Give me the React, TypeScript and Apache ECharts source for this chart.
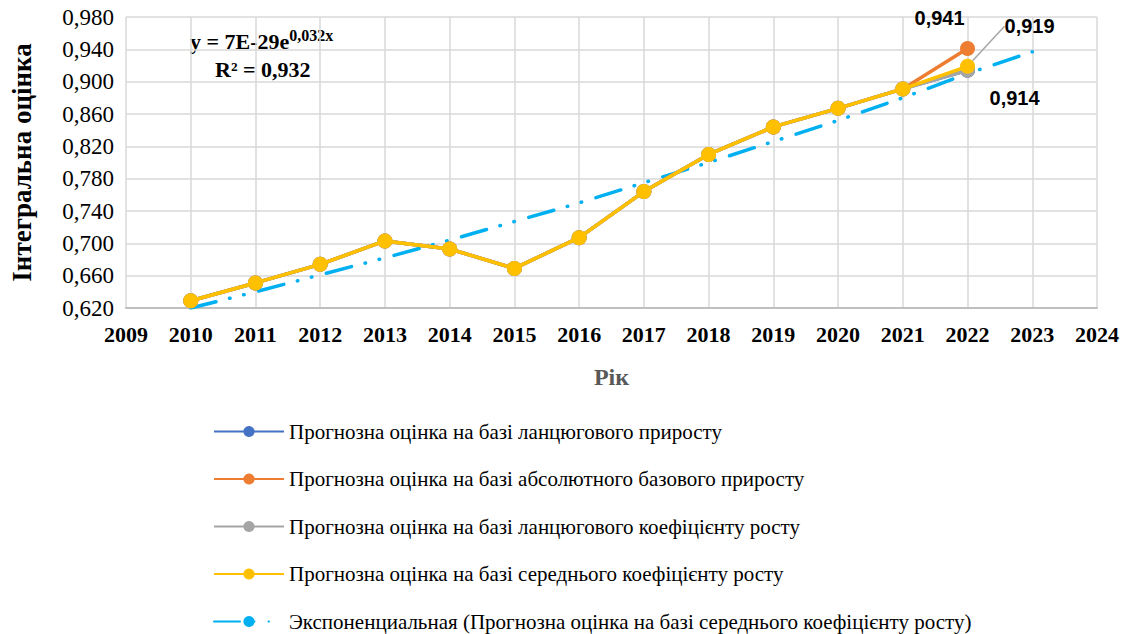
import React, { useEffect, useRef } from "react";
import * as echarts from "echarts";

const years = [2010, 2011, 2012, 2013, 2014, 2015, 2016, 2017, 2018, 2019, 2020, 2021, 2022];
const chainIncrement = [0.629, 0.651, 0.674, 0.703, 0.693, 0.669, 0.707, 0.764, 0.810, 0.844, 0.867, 0.891, 0.914];
const absoluteIncrement = [0.629, 0.651, 0.674, 0.703, 0.693, 0.669, 0.707, 0.764, 0.810, 0.844, 0.867, 0.891, 0.941];
const chainCoefficient = [0.629, 0.651, 0.674, 0.703, 0.693, 0.669, 0.707, 0.764, 0.810, 0.844, 0.867, 0.891, 0.914];
const averageCoefficient = [0.629, 0.651, 0.674, 0.703, 0.693, 0.669, 0.707, 0.764, 0.810, 0.844, 0.867, 0.891, 0.919];
const trendYears = [2010, 2011, 2012, 2013, 2014, 2015, 2016, 2017, 2018, 2019, 2020, 2021, 2022, 2023];
const trendValues = [0.620, 0.640, 0.661, 0.682, 0.704, 0.727, 0.750, 0.775, 0.800, 0.826, 0.852, 0.880, 0.910, 0.937];
const yTicks = [0.62, 0.66, 0.70, 0.74, 0.78, 0.82, 0.86, 0.90, 0.94, 0.98];

const seriesNames = [
  "Прогнозна оцінка на базі ланцюгового приросту",
  "Прогнозна оцінка на базі абсолютного базового приросту",
  "Прогнозна оцінка на базі ланцюгового коефіцієнту росту",
  "Прогнозна оцінка на базі середнього коефіцієнту росту",
  "Экспоненциальная (Прогнозна оцінка на базі середнього коефіцієнту росту)",
];
const colors = ["#4472C4", "#ED7D31", "#A5A5A5", "#FFC000", "#00B0F0"];

const SERIF = "'Liberation Serif', 'Times New Roman', serif";
const SANS = "'Liberation Sans', Arial, sans-serif";

function buildData(values: number[], label?: any) {
  return values.map((v, i) => {
    const item: any = { value: [years[i], v] };
    if (label && i === values.length - 1) item.label = label;
    return item;
  });
}

const labelBase = {
  show: true,
  position: "inside",
  fontFamily: SANS,
  fontWeight: "bold",
  fontSize: 20,
  color: "#000",
  formatter: (p: any) => p.value[1].toFixed(3).replace(".", ","),
};

export default function App() {
  const ref = useRef<HTMLDivElement>(null);
  useEffect(() => {
    if (!ref.current) return;
    const chart = echarts.init(ref.current, undefined, { renderer: "svg" });
    const lineSeries = (idx: number, values: number[], label?: any, extra: any = {}) => ({
      name: seriesNames[idx],
      type: "line",
      data: buildData(values, label),
      symbol: "circle",
      symbolSize: 15,
      color: colors[idx],
      lineStyle: { width: 3.5, color: colors[idx] },
      itemStyle: { color: colors[idx] },
      label: { show: false },
      z: 2 + idx,
      ...extra,
    });
    chart.setOption({
      animation: false,
      grid: { left: 117, right: 37, top: 17, bottom: 326 },
      xAxis: {
        type: "value",
        min: 2009,
        max: 2024,
        interval: 1,
        name: "Рік",
        nameLocation: "middle",
        nameGap: 57,
        nameTextStyle: { fontFamily: SERIF, fontWeight: "bold", fontSize: 24, color: "#595959" },
        axisLine: { show: true, lineStyle: { color: "#BFBFBF", width: 2 } },
        axisTick: { show: false },
        splitLine: { show: true, lineStyle: { color: "#D9D9D9", width: 1.5 } },
        axisLabel: {
          fontFamily: SERIF,
          fontWeight: "bold",
          fontSize: 22,
          color: "#000",
          margin: 15,
          formatter: (v: number) => String(v),
        },
      },
      yAxis: {
        type: "value",
        min: 0.62,
        max: 0.98,
        name: "Інтегральна оцінка",
        nameLocation: "middle",
        nameGap: 91,
        nameRotate: 90,
        nameTextStyle: { fontFamily: SERIF, fontWeight: "bold", fontSize: 27, color: "#000" },
        axisLine: { show: false },
        axisTick: { show: false, customValues: yTicks },
        splitLine: { show: true, lineStyle: { color: "#D9D9D9", width: 1.5 } },
        axisLabel: {
          customValues: yTicks,
          fontFamily: SERIF,
          fontSize: 23,
          color: "#000",
          margin: 12,
          formatter: (v: number) => v.toFixed(3).replace(".", ","),
        },
      },
      legend: {
        orient: "vertical",
        left: 208,
        top: 416,
        height: 240,
        itemWidth: 70,
        itemHeight: 14,
        itemGap: 26.5,
        textStyle: { fontFamily: SERIF, fontSize: 21, color: "#000" },
        data: seriesNames,
      },
      graphic: [
        {
          type: "text",
          left: 190,
          top: 27,
          style: {
            text: "{a|y = 7E-29e}{s|0,032x}",
            rich: {
              a: { fontFamily: SERIF, fontWeight: "bold", fontSize: 22, color: "#000" },
              s: { fontFamily: SERIF, fontWeight: "bold", fontSize: 16, color: "#000", padding: [0, 0, 12, 0] },
            },
          },
        },
        {
          type: "text",
          left: 215,
          top: 58,
          style: {
            text: "R² = 0,932",
            fontFamily: SERIF,
            fontWeight: "bold",
            fontSize: 22,
            fill: "#000",
          },
        },
      ],
      series: [
        lineSeries(0, chainIncrement),
        lineSeries(1, absoluteIncrement, { ...labelBase, offset: [-28, -31] }),
        lineSeries(2, chainCoefficient, { ...labelBase, offset: [47, 28] }),
        lineSeries(3, averageCoefficient, { ...labelBase }, {
          labelLayout: { dx: 62, dy: -40 },
          labelLine: { show: true, lineStyle: { color: "#A6A6A6", width: 1.5 } },
        }),
        {
          name: seriesNames[4],
          type: "line",
          data: trendValues.map((v, i) => [trendYears[i], v]),
          symbol: "none",
          color: colors[4],
          lineStyle: { width: 3.5, color: colors[4], type: [26, 14, 0.5, 14, 0.5, 15], cap: "round" },
          z: 1,
        },
      ],
    });
    return () => chart.dispose();
  }, []);
  return <div ref={ref} style={{ width: 1134, height: 634, position: "absolute", left: 0, top: 0 }} />;
}
